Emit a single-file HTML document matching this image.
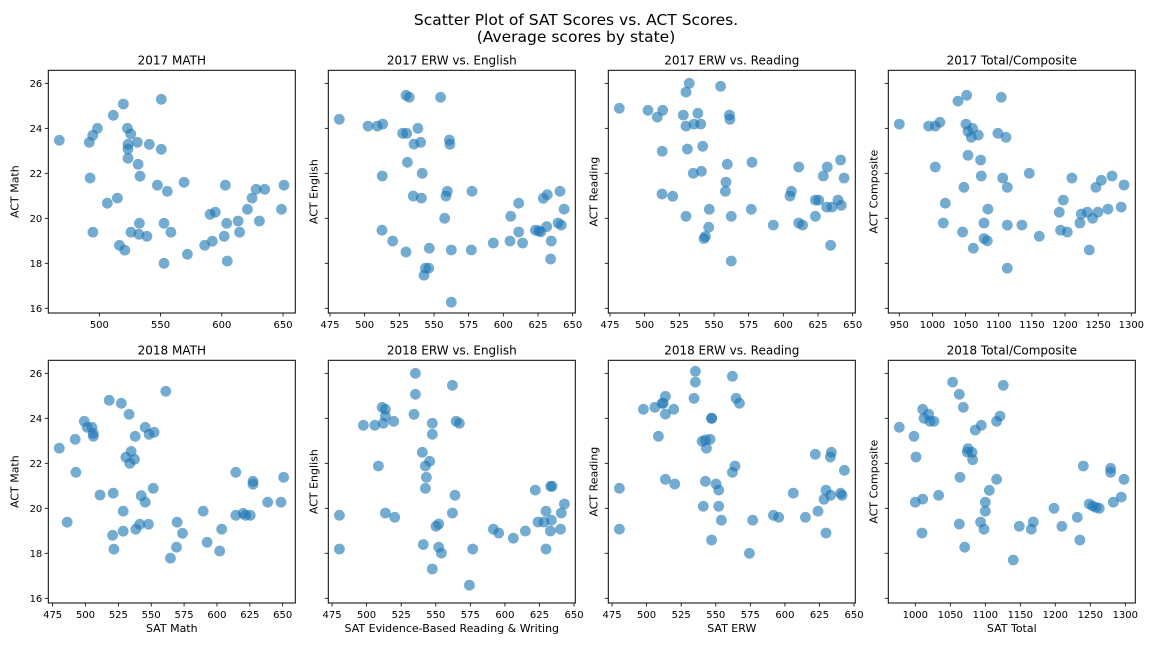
<!DOCTYPE html>
<html><head><meta charset="utf-8">
<style>
html,body{margin:0;padding:0;background:#fff;}
svg{display:block;font-family:"DejaVu Sans","Liberation Sans",sans-serif;}
</style></head>
<body>
<svg id="chart" width="1152" height="648" viewBox="0 0 1152 648" xmlns="http://www.w3.org/2000/svg">
<rect width="1152" height="648" fill="#fff"/>
<text x="576" y="25" text-anchor="middle" font-size="15.5" fill="#000">Scatter Plot of SAT Scores vs. ACT Scores.</text>
<text x="576" y="42" text-anchor="middle" font-size="15.5" fill="#000">(Average scores by state)</text>
<g id="panels"></g>
</svg>
<script>
const math17X=[467.3,519.6,550.6,511.4,498.4,494.6,491.8,522.9,525.6,523.4,523.4,531,540.8,550.6,523.4,531.6,533.2,492.4,547.4,555.5,569.2,602.9,628,635,650.8,624.7,620.9,648.7,514.7,506.5,590.4,594.7,532.7,552.8,604,613.3,630.7,494.7,525.8,532.3,538.8,558.4,592.2,601.9,614.5,516.4,520.8,586,571.9,552.8,604.5];
const math17Y=[23.47,25.08,25.29,24.58,24.0,23.69,23.38,24.0,23.75,23.29,23.08,23.38,23.29,23.07,22.67,22.4,21.87,21.79,21.47,21.2,21.6,21.47,21.29,21.29,21.47,20.9,20.4,20.4,20.9,20.67,20.18,20.27,19.78,19.78,19.78,19.88,19.88,19.38,19.38,19.29,19.2,19.38,18.98,19.2,19.38,18.8,18.58,18.8,18.4,18.0,18.1];
const eng17X=[481.7,502.4,509.1,513,529.8,532.2,554.8,527.4,530.3,538.4,535.6,540.4,561.1,561.5,530.8,512.7,541.5,559.6,558.7,577.4,535.1,540.9,611.1,628.8,631.7,640.9,643.8,557.7,605.3,512.5,520.2,529.8,546.6,562.5,576.9,592.8,604.8,611.1,613.9,623.1,625.5,631.3,639.4,641.8,634.6,634.1,543.8,546.2,542.8,562.5,627];
const eng17Y=[24.4,24.1,24.1,24.19,25.47,25.38,25.38,23.78,23.78,24.0,23.3,23.38,23.48,23.29,22.49,21.88,22.0,21.2,20.99,21.2,20.99,20.9,20.67,20.89,21.05,21.2,20.41,20.0,20.09,19.47,18.99,18.5,18.67,18.59,18.59,18.9,18.99,19.39,18.9,19.47,19.44,19.63,19.79,19.7,18.99,18.19,17.78,17.78,17.47,16.27,19.4];
const read17X=[481.7,502.4,513,509.1,532.2,529.8,554.8,527.9,538.4,529.8,535.6,540.4,561.1,561.5,512.7,530.8,541.9,559.6,577.4,535.1,540.9,558.7,558.2,512.5,520.2,529.8,546.6,562.5,576.9,546.2,543.8,542.8,562.5,592.8,605.8,604.8,611.1,631.7,628.8,641.3,643.8,623.1,625.5,631.3,635.1,639.4,641.8,623.1,611.1,613.9,634.1];
const read17Y=[24.89,24.8,24.8,24.5,26.0,25.61,25.87,24.59,24.67,24.1,24.19,24.19,24.59,24.4,22.98,23.08,23.2,22.4,22.49,22.0,22.09,21.61,21.2,21.08,20.98,20.09,20.4,20.09,20.4,19.6,19.19,19.1,18.1,19.7,21.2,20.99,22.28,22.28,21.88,22.59,21.79,20.81,20.81,20.5,20.5,20.81,20.58,20.09,19.79,19.7,18.8];
const tot17X=[950,994.2,1004.3,1011.3,1038.5,1051.6,1103.8,1050.6,1060.6,1053.6,1058.6,1069.2,1098.8,1110.9,1053.6,1072.7,1004.3,1073.7,1105.9,1112.9,1146.1,1047.5,1210.4,1254.7,1270.8,1246.6,1288.9,1197.4,1019.4,1083.7,1191.3,1224.5,1233.6,1249.6,1264.7,1284.8,1241.6,1222.5,1016.4,1077.7,1112.9,1135,1161.2,1045.5,1193.3,1203.4,1077.7,1082.8,1061.6,1236.6,1112.9];
const tot17Y=[24.19,24.1,24.1,24.27,25.21,25.47,25.38,24.19,24.0,23.87,23.6,23.7,23.78,23.6,22.8,22.59,22.28,21.88,21.79,21.38,22.0,21.38,21.79,21.69,21.88,21.38,21.48,20.81,20.67,20.41,20.27,20.19,20.27,20.27,20.41,20.5,20.0,19.79,19.79,19.79,19.7,19.7,19.2,19.39,19.47,19.39,19.1,19.0,18.67,18.59,17.78];
const math18X=[480.1,561.1,518,527.2,533.2,499.1,501.3,504.9,505.9,505.9,492.2,545.4,548.4,552.2,537.8,534.8,530.7,537.3,533.7,492.7,614.3,650.7,627.4,627.4,511,521.1,542.4,551.5,545.4,638.6,648.7,528.7,589.5,614.3,619.9,621.9,625.4,486.1,541.3,547.9,569.7,538.3,528.7,573.8,520.6,603.6,592.5,569.2,521.6,602.1,564.6];
const math18Y=[22.67,25.2,24.8,24.67,24.18,23.87,23.6,23.6,23.33,23.2,23.07,23.6,23.29,23.38,23.2,22.53,22.27,22.18,22.0,21.6,21.6,21.38,21.2,21.07,20.59,20.67,20.56,20.89,20.27,20.27,20.27,19.87,19.87,19.69,19.78,19.69,19.69,19.38,19.29,19.29,19.38,19.07,18.98,18.89,18.8,19.07,18.49,18.27,18.18,18.1,17.78];
const eng18X=[535.3,562,535.3,534.3,511.2,513.6,513.6,512.1,519.6,497.7,505.9,547.5,547.5,564.7,567.1,540.3,545.6,542.5,508.5,543.2,542.5,563.9,622,633.1,634.1,643,629.7,640.8,480.3,513.6,520.3,562,550.2,552.1,591.7,595.5,606.1,614.8,623.9,628.3,633.6,632.9,640.3,629.7,480.3,541,552.1,554.1,576.7,547.5,574.3];
const eng18Y=[26.0,25.47,25.07,24.18,24.49,24.4,24.1,23.78,23.87,23.69,23.69,23.78,23.29,23.87,23.78,22.49,22.09,21.88,21.88,21.38,20.89,20.58,20.81,20.98,20.98,20.19,19.87,19.79,19.69,19.79,19.6,19.79,19.2,19.3,19.07,18.9,18.67,18.99,19.39,19.39,19.47,18.99,19.07,18.19,18.19,18.39,18.27,18.01,18.19,17.3,16.58];
const read18X=[535.3,562,535.3,513.6,512.1,511.2,534.3,564.7,567.1,497.7,505.9,519.6,513.6,547,547,508.5,540.1,542.5,545.9,543.2,622,633.6,632.9,643,563.9,562,513.6,520.3,542.5,550.2,552.1,480.3,606.1,629.7,633.1,628.3,640.3,641.3,541,552.1,554.1,576.7,591.7,595.5,614.8,623.9,480.3,629.7,547,574.3];
const read18Y=[26.09,25.87,25.61,24.98,24.67,24.67,24.89,24.89,24.67,24.4,24.49,24.4,24.19,24.0,24.0,23.2,22.98,23.04,23.07,22.67,22.4,22.49,22.28,21.69,21.88,21.6,21.29,21.08,21.2,21.08,20.81,20.89,20.67,20.81,20.58,20.4,20.67,20.58,20.09,20.09,19.47,19.47,19.69,19.6,19.6,19.87,19.07,18.9,18.59,18.0];
const tot18X=[1053.3,1125.7,1062.9,1068.6,1010.5,1019,1012.4,1021,1026.7,1121,1116.2,1094.3,1085.7,977.1,998.1,1075.2,1074.3,1081,1081.9,1001,1240,1279,1279,1298.1,1063.8,1116.2,1105.7,1033.3,1000,1010.5,1100,1100,1198.1,1248.6,1253.3,1258.1,1262.9,1282.9,1294.3,1231.4,1209.5,1148.6,1165.7,1168.6,1093.3,1098.1,1062.9,1009.5,1235.2,1070.5,1140];
const tot18Y=[25.61,25.47,25.07,24.49,24.4,24.19,24.0,23.87,23.87,24.1,23.87,23.69,23.48,23.6,23.2,22.65,22.5,22.49,22.16,22.28,21.88,21.78,21.6,21.29,21.38,21.29,20.8,20.58,20.27,20.41,20.27,19.87,20.0,20.19,20.1,20.04,20.0,20.27,20.5,19.6,19.2,19.2,19.07,19.39,19.39,19.07,19.3,18.9,18.59,18.27,17.7];
const yTicks=[16,18,20,22,24,26];
const ticksMath17=[500,550,600,650];
const ticksErw=[475,500,525,550,575,600,625,650];
const ticksTot17=[950,1000,1050,1100,1150,1200,1250,1300];
const ticksTot18=[1000,1050,1100,1150,1200,1250,1300];
const titles=["2017 MATH","2017 ERW vs. English","2017 ERW vs. Reading","2017 Total/Composite","2018 MATH","2018 ERW vs. English","2018 ERW vs. Reading","2018 Total/Composite"];
const yLabels=["ACT Math","ACT English","ACT Reading","ACT Composite"];
const xLabels=["SAT Math","SAT Evidence-Based Reading & Writing","SAT ERW","SAT Total"];

const panels=[
 {xs:math17X,ys:math17Y,xlim:[458.3,660],ticks:ticksMath17},
 {xs:eng17X,ys:eng17Y,xlim:[473.8,651.9],ticks:ticksErw},
 {xs:read17X,ys:read17Y,xlim:[473.8,651.9],ticks:ticksErw},
 {xs:tot17X,ys:tot17Y,xlim:[933.4,1306],ticks:ticksTot17},
 {xs:math18X,ys:math18Y,xlim:[471.7,659.6],ticks:ticksErw},
 {xs:eng18X,ys:eng18Y,xlim:[472.3,650.9],ticks:ticksErw},
 {xs:read18X,ys:read18Y,xlim:[472.3,650.9],ticks:ticksErw},
 {xs:tot18X,ys:tot18Y,xlim:[961.4,1314.3],ticks:ticksTot18}
];
const NS="http://www.w3.org/2000/svg";
const root=document.getElementById('panels');
function mk(tag,attrs,parent,txt){const e=document.createElementNS(NS,tag);for(const k in attrs)e.setAttribute(k,attrs[k]);if(txt!==undefined)e.textContent=txt;parent.appendChild(e);return e;}
const W=247,H=242.7,ylim=[15.79,26.58];
panels.forEach((p,i)=>{
 const c=i%4,r=Math.floor(i/4);
 const L=48.3+280*c,T=r===0?70.3:360.3;
 const sx=v=>L+(v-p.xlim[0])/(p.xlim[1]-p.xlim[0])*W;
 const sy=v=>T+H-(v-ylim[0])/(ylim[1]-ylim[0])*H;
 const g=mk('g',{},root);
 
 
 const t=mk('text',{x:L+W/2,y:T-6,'text-anchor':'middle','font-size':'12',fill:'#000'},g,titles[i]);
 
 
 const pts=mk('g',{},g);
 
 
 p.xs.forEach((xv,k)=>{
  const ci=mk('circle',{cx:sx(xv).toFixed(1),cy:sy(p.ys[k]).toFixed(1),r:5.4,fill:'#1f77b4','fill-opacity':0.62},pts);
  
  
 });
 const fr=mk('rect',{x:L,y:T,width:W,height:H,fill:'none',stroke:'#000','stroke-width':1},g);
 
 
 p.ticks.forEach(tv=>{
  const x=sx(tv);
  mk('line',{x1:x,x2:x,y1:T+H,y2:T+H+3.5,stroke:'#000','stroke-width':0.8},g);
  const tl=mk('text',{x:x,y:T+H+15,'text-anchor':'middle','font-size':'10',fill:'#000'},g,String(tv));
  
  
 });
 yTicks.forEach(tv=>{
  const y=sy(tv);
  mk('line',{x1:L-3.5,x2:L,y1:y,y2:y,stroke:'#000','stroke-width':0.8},g);
  if(c===0){
   const tl=mk('text',{x:L-6,y:y+3.6,'text-anchor':'end','font-size':'10',fill:'#000'},g,String(tv));
   
   
  }
 });
 const yl=mk('text',{x:0,y:0,'text-anchor':'middle','font-size':'11',fill:'#000',transform:`translate(${c===0?L-30:L-11},${T+H/2}) rotate(-90)`},g,yLabels[c]);
 
 
 if(r===1){
  const xl=mk('text',{x:L+W/2,y:T+H+29,'text-anchor':'middle','font-size':'11',fill:'#000'},g,xLabels[c]);
  
  
 }
});
</script>
</body></html>
